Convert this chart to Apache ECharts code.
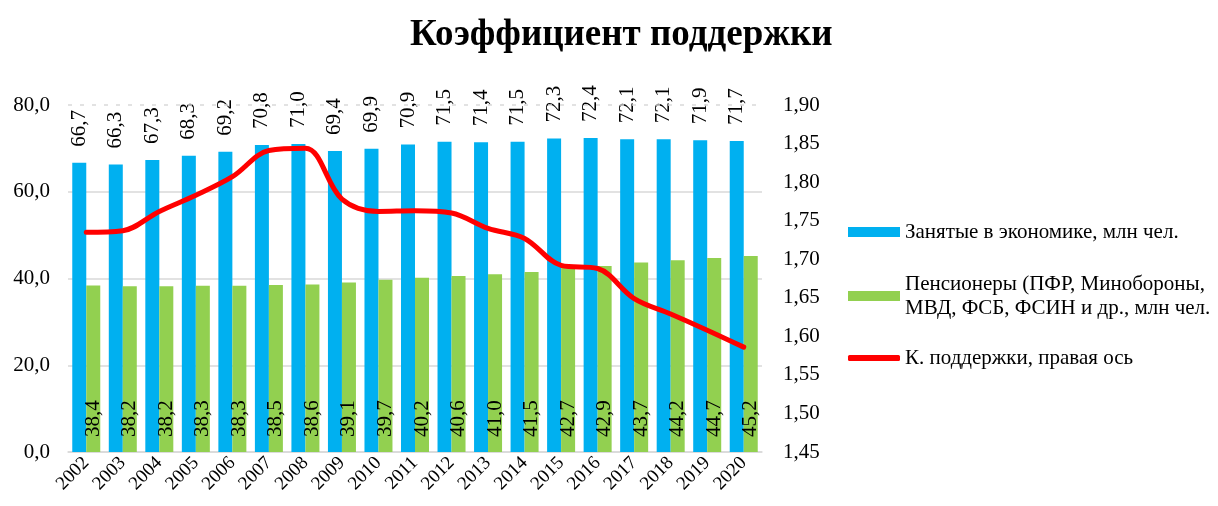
<!DOCTYPE html>
<html><head><meta charset="utf-8">
<script src="https://cdn.jsdelivr.net/npm/echarts@6/dist/echarts.min.js"></script>
<style>html,body{margin:0;padding:0;background:#fff}#c{width:1218px;height:506px}</style>
</head><body><div id="c"></div>
<script>
const years = ['2002','2003','2004','2005','2006','2007','2008','2009','2010','2011','2012','2013','2014','2015','2016','2017','2018','2019','2020'];
const employed = [66.7,66.3,67.3,68.3,69.2,70.8,71.0,69.4,69.9,70.9,71.5,71.4,71.5,72.3,72.4,72.1,72.1,71.9,71.7];
const pensioners = [38.4,38.2,38.2,38.3,38.3,38.5,38.6,39.1,39.7,40.2,40.6,41.0,41.5,42.7,42.9,43.7,44.2,44.7,45.2];
const support = [1.735,1.737,1.762,1.783,1.807,1.841,1.844,1.778,1.762,1.763,1.760,1.740,1.727,1.692,1.688,1.649,1.629,1.608,1.586];
const leftTicks = {min:0, max:80, interval:20};
const rightTicks = {min:1.45, max:1.90, interval:0.05};

const names = ['Занятые в экономике, млн чел.','Пенсионеры (ПФР, Минобороны, МВД, ФСБ, ФСИН и др., млн чел.','К. поддержки, правая ось'];
const FONT = '"Liberation Serif","Times New Roman",serif';
const comma = (v,d)=>v.toFixed(d).replace('.',',');

const chart = echarts.init(document.getElementById('c'));
const legendBase = {orient:'vertical', left:843, itemWidth:52, itemHeight:10, itemGap:0,
  textStyle:{fontFamily:FONT, fontSize:21, color:'#000', lineHeight:24}};
chart.setOption({
  animation:false,
  title:{text:'Коэффициент поддержки', left:405, top:12,
    textStyle:{fontFamily:FONT, fontSize:37, fontWeight:'bold', color:'#000'}},
  legend:[
    Object.assign({}, legendBase, {top:215, data:[{name:names[0], icon:'rect'}]}),
    Object.assign({}, legendBase, {top:255, data:[{name:names[1], icon:'rect'}],
      formatter:()=>'Пенсионеры (ПФР, Минобороны,\nМВД, ФСБ, ФСИН и др., млн чел.',
      textStyle:Object.assign({}, legendBase.textStyle, {padding:[24,0,0,0]})}),
    Object.assign({}, legendBase, {top:341, itemHeight:6, data:[{name:names[2], icon:'roundRect'}]})
  ],
  grid:{left:68, right:456, top:105, bottom:54},
  xAxis:{type:'category', data:years,
    axisLine:{lineStyle:{color:'#d9d9d9', width:1.5}}, axisTick:{show:false},
    axisLabel:{rotate:45, fontFamily:FONT, fontSize:19, color:'#000', margin:8, interval:0}},
  yAxis:[
    {type:'value', min:leftTicks.min, max:leftTicks.max, interval:leftTicks.interval,
      axisLine:{show:false}, axisTick:{show:false},
      axisLabel:{formatter:v=>comma(v,1), fontFamily:FONT, fontSize:21, color:'#000', margin:18},
      splitLine:{lineStyle:{color:['#d9d9d9','#d9d9d9','#d9d9d9','#d9d9d9','rgba(0,0,0,0)'], width:1.5}}},
    {type:'value', min:rightTicks.min, max:rightTicks.max, interval:rightTicks.interval,
      axisLine:{show:false}, axisTick:{show:false}, splitLine:{show:false},
      axisLabel:{formatter:v=>comma(v,2), fontFamily:FONT, fontSize:21, color:'#000', margin:21}}
  ],
  series:[
    {name:names[0], type:'bar', data:employed, barWidth:14, barGap:'0%',
      itemStyle:{color:'#00B0F0'},
      label:{show:true, position:'top', rotate:90, align:'left', verticalAlign:'middle', distance:16,
        formatter:p=>comma(p.value,1), fontFamily:FONT, fontSize:21, color:'#000'},
      markLine:{silent:true, symbol:'none', label:{show:false},
        lineStyle:{color:'#d9d9d9', type:[4,8], width:1.5}, data:[{yAxis:80}]}},
    {name:names[1], type:'bar', data:pensioners, barWidth:14,
      itemStyle:{color:'#92D050'},
      label:{show:true, position:'insideBottom', rotate:90, align:'left', verticalAlign:'middle', distance:15,
        formatter:p=>comma(p.value,1), fontFamily:FONT, fontSize:21, color:'#000'}},
    {name:names[2], type:'line', yAxisIndex:1, data:support, smooth:0.35, symbol:'none',
      lineStyle:{color:'#FF0000', width:5, cap:'round'}, itemStyle:{color:'#FF0000'}}
  ]
});
</script></body></html>
